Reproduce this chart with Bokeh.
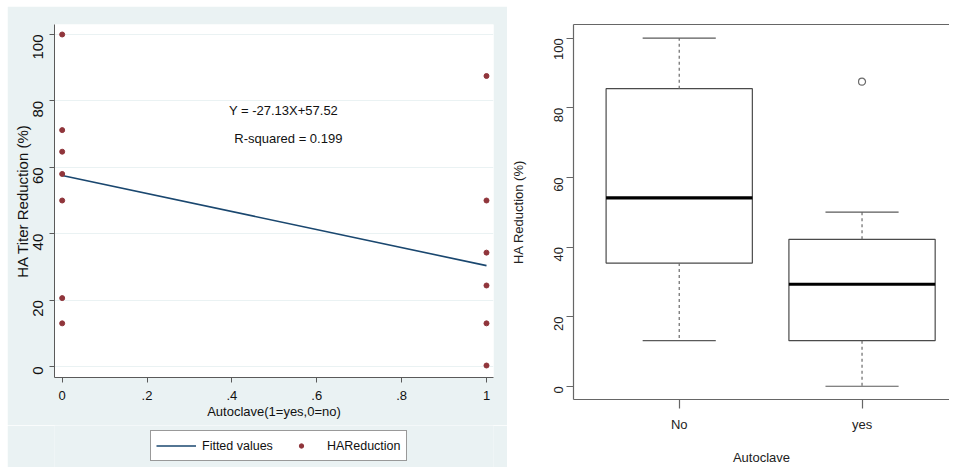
import math
from bokeh.plotting import figure
from bokeh.layouts import row, column
from bokeh.models import FixedTicker, Legend, LegendItem, LinearAxis, Label, Spacer
from bokeh.embed import file_html
from bokeh.resources import INLINE

# ---------------- data ----------------
# left panel (Stata scatter + fitted line)
scatter_x = [0, 0, 0, 0, 0, 0, 0, 1, 1, 1, 1, 1, 1]
scatter_y = [100, 71.2, 64.7, 58, 50, 20.6, 13, 87.5, 50, 34.3, 24.4, 13, 0.3]
fit_x = [0, 1]
fit_y = [57.52, 30.39]
x_tick_values = [0, 0.2, 0.4, 0.6, 0.8, 1]
x_tick_labels = ["0", ".2", ".4", ".6", ".8", "1"]
y_tick_values = [0, 20, 40, 60, 80, 100]
equation_text = "Y = -27.13X+57.52"
rsq_text = "R-squared = 0.199"
legend_labels = ["Fitted values", "HAReduction"]

# right panel (R boxplot)
box_categories = ["No", "yes"]
box_positions = [1, 2]
box_q1 = [35.4, 13.1]
box_median = [54.1, 29.3]
box_q3 = [85.5, 42.2]
box_whisk_lo = [13.1, 0]
box_whisk_hi = [100, 50]
outlier_pos = [2]
outlier_val = [87.5]

FONT = "Liberation Sans"
STATA_BG = "#eaf2f3"
LINE_COLOR = "#1a476f"
DOT_COLOR = "#90353b"

# ---------------- left figure ----------------
p1 = figure(width=500, height=419, x_range=(-0.0181, 1.0165), y_range=(-3.31, 103.01),
            output_backend="svg", toolbar_location=None,
            min_border_left=47, min_border_right=14, min_border_top=18, min_border_bottom=48,
            background_fill_color="white", border_fill_color=STATA_BG, outline_line_color=None)

p1.line(fit_x, fit_y, line_color=LINE_COLOR, line_width=1.6)
p1.scatter(scatter_x, scatter_y, size=5, fill_color=DOT_COLOR, line_color=DOT_COLOR)

p1.xgrid.visible = False
p1.ygrid.grid_line_color = STATA_BG
p1.ygrid.grid_line_width = 1.2

p1.xaxis.ticker = FixedTicker(ticks=x_tick_values)
p1.xaxis.major_label_overrides = {v: l for v, l in zip(x_tick_values, x_tick_labels)}
p1.yaxis.ticker = FixedTicker(ticks=y_tick_values)
for ax in (p1.xaxis[0], p1.yaxis[0]):
    ax.axis_line_color = "#5a5a5a"
    ax.major_tick_line_color = "#5a5a5a"
    ax.major_tick_out = 5
    ax.major_tick_in = 0
    ax.minor_tick_line_color = None
    ax.major_label_text_font = FONT
    ax.major_label_text_color = "#111111"
    ax.axis_label_text_font = FONT
    ax.axis_label_text_font_style = "normal"
    ax.axis_label_text_color = "#111111"

p1.xaxis.axis_label = "Autoclave(1=yes,0=no)"
p1.xaxis.major_label_text_font_size = "13px"
p1.xaxis.axis_label_text_font_size = "13px"
p1.xaxis.major_label_standoff = 8
p1.xaxis.axis_label_standoff = 1

p1.yaxis.axis_label = "HA Titer Reduction (%)"
p1.yaxis.major_label_orientation = math.pi / 2
p1.yaxis.major_label_text_font_size = "15px"
p1.yaxis.axis_label_text_font_size = "15px"
p1.yaxis.major_label_standoff = 11
p1.yaxis.axis_label_standoff = -5

p1.add_layout(Label(x=0.5216, y=77.1, text=equation_text, text_align="center",
                    text_baseline="middle", text_font=FONT, text_font_size="13px",
                    text_color="#111111"))
p1.add_layout(Label(x=0.533, y=68.8, text=rsq_text, text_align="center",
                    text_baseline="middle", text_font=FONT, text_font_size="13px",
                    text_color="#111111"))

# legend strip under the scatter panel (same background); its y-range keeps
# the proxy renderers out of view so only the legend is seen
p_leg = figure(width=500, height=42, x_range=(0, 1), y_range=(1000, 1001),
               output_backend="svg", toolbar_location=None,
               x_axis_location=None, y_axis_location=None, min_border=0,
               background_fill_color=STATA_BG, border_fill_color=STATA_BG,
               outline_line_color=None)
p_leg.grid.visible = False
leg_line = p_leg.line(fit_x, fit_y, line_color=LINE_COLOR, line_width=1.6)
leg_dot = p_leg.scatter(scatter_x, scatter_y, size=5, fill_color=DOT_COLOR, line_color=DOT_COLOR)
legend = Legend(items=[LegendItem(label=legend_labels[0], renderers=[leg_line]),
                       LegendItem(label=legend_labels[1], renderers=[leg_dot])],
                location=(96, 6), orientation="horizontal",
                border_line_color="#333333", border_line_width=1,
                background_fill_color="white", background_fill_alpha=1,
                label_text_font=FONT, label_text_font_size="12.5px", label_text_color="#111111",
                glyph_width=40, glyph_height=11, label_height=19,
                padding=5, spacing=8, label_standoff=6, margin=0)
p_leg.add_layout(legend, "center")

left_block = column(Spacer(height=6), p1, p_leg, spacing=0)

# ---------------- right figure ----------------
p2 = figure(width=442, height=467, x_range=(0.4217, 2.4784), y_range=(-3.81, 103.93),
            output_backend="svg", toolbar_location=None,
            min_border_left=65, min_border_right=0, min_border_top=24, min_border_bottom=67,
            background_fill_color="white", border_fill_color="white", outline_line_color=None)
p2.grid.visible = False

BOX_W = 0.8
STAPLE_W = 0.4
p2.vbar(x=box_positions, width=BOX_W, bottom=box_q1, top=box_q3,
        fill_color="white", line_color="#4a4a4a", line_width=1.2)
p2.segment(x0=[x - BOX_W / 2 for x in box_positions], x1=[x + BOX_W / 2 for x in box_positions],
           y0=box_median, y1=box_median, line_color="black", line_width=3.2)
p2.segment(x0=box_positions, x1=box_positions, y0=box_q3, y1=box_whisk_hi,
           line_color="#6a6a6a", line_width=1.2, line_dash="3 3")
p2.segment(x0=box_positions, x1=box_positions, y0=box_q1, y1=box_whisk_lo,
           line_color="#6a6a6a", line_width=1.2, line_dash="3 3")
for wv in (box_whisk_hi, box_whisk_lo):
    p2.segment(x0=[x - STAPLE_W / 2 for x in box_positions],
               x1=[x + STAPLE_W / 2 for x in box_positions],
               y0=wv, y1=wv, line_color="#5a5a5a", line_width=1.2)
p2.scatter(outlier_pos, outlier_val, marker="circle", size=7, fill_color=None,
           line_color="#6a6a6a", line_width=1.2)

p2.xaxis.ticker = FixedTicker(ticks=box_positions)
p2.xaxis.major_label_overrides = {v: c for v, c in zip(box_positions, box_categories)}
p2.yaxis.ticker = FixedTicker(ticks=y_tick_values)
for ax in (p2.xaxis[0], p2.yaxis[0]):
    ax.axis_line_color = "#666666"
    ax.axis_line_width = 1.2
    ax.major_tick_line_color = "#666666"
    ax.major_tick_line_width = 1.2
    ax.major_tick_in = 0
    ax.minor_tick_line_color = None
    ax.major_label_text_font = FONT
    ax.major_label_text_font_size = "13px"
    ax.major_label_text_color = "#222222"
    ax.axis_label_text_font = FONT
    ax.axis_label_text_font_size = "13px"
    ax.axis_label_text_font_style = "normal"
    ax.axis_label_text_color = "#222222"

p2.xaxis.axis_label = "Autoclave"
p2.xaxis.major_tick_out = 9
p2.xaxis.major_label_standoff = 8
p2.xaxis.axis_label_standoff = 15

p2.yaxis.axis_label = "HA Reduction (%)"
p2.yaxis.major_tick_out = 7
p2.yaxis.major_label_orientation = math.pi / 2
p2.yaxis.major_label_standoff = 8
p2.yaxis.axis_label_standoff = 21

top_axis = LinearAxis(ticker=FixedTicker(ticks=[]), axis_line_color="#666666",
                      axis_line_width=1.2, major_tick_line_color=None,
                      minor_tick_line_color=None, major_label_text_font_size="0px")
p2.add_layout(top_axis, "above")

right_block = column(p2, spacing=0)

layout = row(Spacer(width=7), left_block, right_block, spacing=0)
open("out.html", "w").write(file_html(layout, INLINE))
